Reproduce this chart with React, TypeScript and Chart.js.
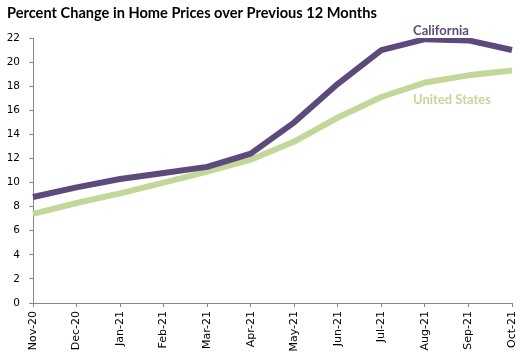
import React, { useEffect, useRef } from "react";
import { Chart, registerables } from "chart.js";

Chart.register(...registerables);

const categories = ["Nov-20", "Dec-20", "Jan-21", "Feb-21", "Mar-21", "Apr-21", "May-21", "Jun-21", "Jul-21", "Aug-21", "Sep-21", "Oct-21"];
const california = [8.8, 9.6, 10.3, 10.8, 11.3, 12.4, 15.0, 18.2, 21.0, 21.9, 21.8, 21.0];
const unitedStates = [7.4, 8.3, 9.1, 10.0, 10.9, 11.9, 13.4, 15.4, 17.1, 18.3, 18.9, 19.3];
const title = "Percent Change in Home Prices over Previous 12 Months";
const seriesNames = ["California", "United States"];

const PURPLE = "#5d4a7d";
const GREEN = "#c4d79b";

const overlay = {
  id: "overlay",
  afterDraw(chart: any) {
    const ctx = chart.ctx;
    ctx.save();
    ctx.fillStyle = "#000";
    ctx.font = "bold 14.6px Lato";
    ctx.textAlign = "left";
    ctx.textBaseline = "middle";
    ctx.fillText(title, 7, 13.5);
    ctx.textAlign = "center";
    ctx.font = "bold 13px Lato";
    ctx.fillStyle = PURPLE;
    ctx.fillText(seriesNames[0], 441, 30.5);
    ctx.fillStyle = GREEN;
    ctx.fillText(seriesNames[1], 452, 99.5);
    ctx.restore();
  },
};

export default function App() {
  const ref = useRef<HTMLCanvasElement>(null);
  useEffect(() => {
    document.body.style.margin = "0";
    const chart = new Chart(ref.current!, {
      type: "line",
      data: {
        labels: categories,
        datasets: [
          { label: seriesNames[0], data: california, borderColor: PURPLE, borderWidth: 6, pointRadius: 0, tension: 0, borderCapStyle: "butt", borderJoinStyle: "round" },
          { label: seriesNames[1], data: unitedStates, borderColor: GREEN, borderWidth: 6, pointRadius: 0, tension: 0, borderCapStyle: "butt", borderJoinStyle: "round" },
        ],
      },
      options: {
        animation: false,
        responsive: false,
        layout: { padding: { top: 38, right: 12, left: 0, bottom: 0 } },
        plugins: { legend: { display: false }, tooltip: { enabled: false }, title: { display: false } },
        scales: {
          x: {
            offset: false,
            grid: { display: true, drawOnChartArea: false, drawTicks: true, tickLength: 4, color: "#888" },
            border: { color: "#888", width: 1 },
            ticks: { autoSkip: false, minRotation: 90, maxRotation: 90, color: "#000", font: { family: "DejaVu Sans", size: 11 }, padding: 4 },
            afterFit: (s: any) => { s.height = 52; s.paddingRight = 0; s.paddingLeft = 0; },
          },
          y: {
            min: 0,
            max: 22,
            grid: { display: true, drawOnChartArea: false, drawTicks: true, tickLength: 4, color: "#888" },
            border: { color: "#888", width: 1 },
            ticks: { stepSize: 2, color: "#000", font: { family: "DejaVu Sans", size: 10.5 }, padding: 9 },
            afterFit: (s: any) => { s.width = 33; s.paddingTop = 0; s.paddingBottom = 0; },
          },
        },
      },
      plugins: [overlay],
    });
    return () => chart.destroy();
  }, []);
  return (
    <div style={{ position: "absolute", left: 0, top: 0, width: 524, height: 355 }}>
      <canvas ref={ref} width={524} height={355} />
    </div>
  );
}
